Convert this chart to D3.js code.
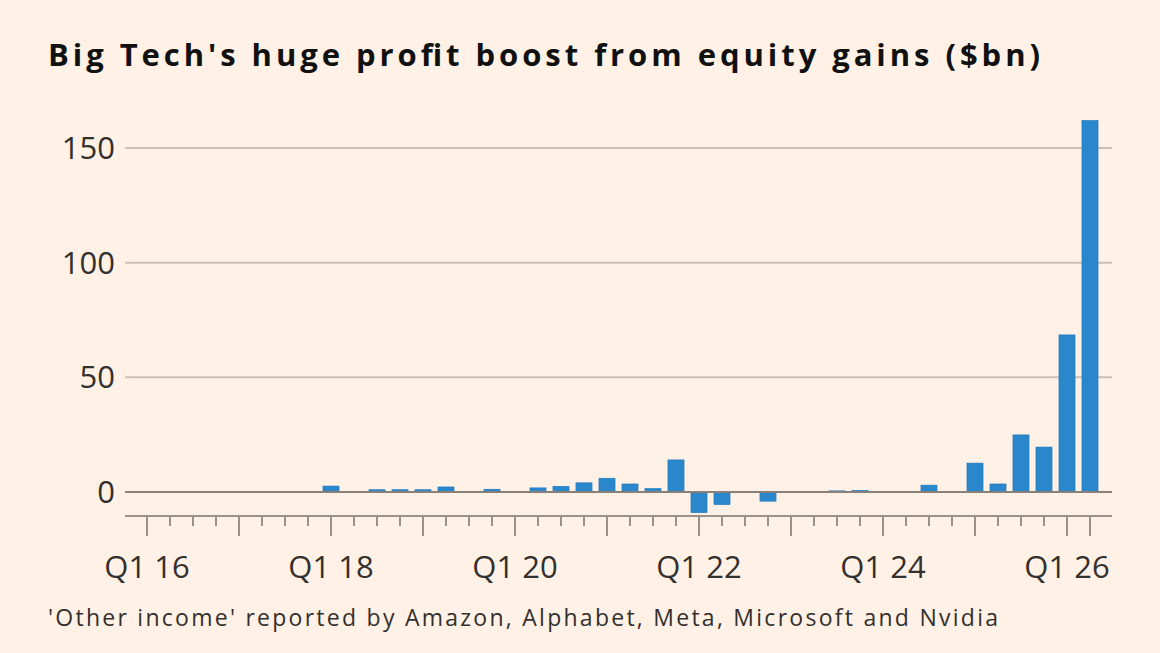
<!DOCTYPE html>
<html lang="en">
<head>
<meta charset="UTF-8">
<script src="https://d3js.org/d3.v7.min.js"></script>
<style>
    body { margin: 0; background: #fff1e5; font-family: 'Open Sans', 'DejaVu Sans', sans-serif; }
    svg { display: block; }
</style>
</head>
<body>
<div id="chart"></div>
<script>
// quarters Q1 16 .. Q2 26
const quarters = d3.range(42).map(i => `Q${i % 4 + 1} ${16 + Math.floor(i / 4)}`);
const values = [
    0, 0, 0, 0, 0, 0, 0, 0,
    2.6, 0.3, 1, 1, 1, 2.2, 0, 1.2,
    0, 1.8, 2.5, 4, 6, 3.5, 1.5, 14,
    -9, -5.5, 0, -4, 0, 0, 0.5, 0.7,
    0, 0, 3, 0, 12.6, 3.5, 24.9, 19.6,
    68.5, 162
];
const yTicks = [0, 50, 100, 150];
const tickLabels = ["Q1 16", "Q1 18", "Q1 20", "Q1 22", "Q1 24", "Q1 26"];

const W = 1160, H = 653;
const svg = d3.select("#chart").append("svg").attr("width", W).attr("height", H);

const x = d3.scaleBand().domain(quarters).range([135.5, 1101.5])
    .paddingInner(0.3).paddingOuter(0.15);
const y = d3.scaleLinear().domain([0, 150]).range([492, 148]);

svg.append("text").attr("x", 48).attr("y", 66)
    .attr("font-size", 31).attr("font-weight", 700).attr("fill", "#111")
    .attr("textLength", 992).attr("lengthAdjust", "spacing")
    .text("Big Tech's huge profit boost from equity gains ($bn)");

// gridlines
svg.append("g").selectAll("line").data(yTicks).join("line")
    .attr("x1", 125).attr("x2", 1112)
    .attr("y1", d => y(d)).attr("y2", d => y(d))
    .attr("stroke", "#ccc1b7").attr("stroke-width", 2);

svg.append("g").selectAll("text").data(yTicks).join("text")
    .attr("x", 115).attr("y", d => y(d) + 11)
    .attr("text-anchor", "end").attr("font-size", 31).attr("fill", "#33302e")
    .text(d => d);

// bars
svg.append("g").selectAll("rect").data(values).join("rect")
    .attr("x", (d, i) => x(quarters[i]))
    .attr("width", x.bandwidth())
    .attr("y", d => y(Math.max(0, d)))
    .attr("height", d => Math.abs(y(d) - y(0)))
    .attr("fill", "#2a87cb").attr("stroke", "#1a77c0").attr("stroke-width", 0.6);

// zero line
svg.append("line").attr("x1", 125).attr("x2", 1112).attr("y1", y(0)).attr("y2", y(0))
    .attr("stroke", "#8a8078").attr("stroke-width", 2);

// x axis
const axisY = 516;
const ax = svg.append("g");
ax.append("line").attr("x1", 125).attr("x2", 1112).attr("y1", axisY).attr("y2", axisY)
    .attr("stroke", "#9a918a").attr("stroke-width", 2);
const c = q => x(q) + x.bandwidth() / 2;
ax.selectAll("line.t").data(quarters).join("line").attr("class", "t")
    .attr("x1", c).attr("x2", c).attr("y1", axisY)
    .attr("y2", (d, i) => (i % 4 === 0 || i === quarters.length - 1) ? axisY + 20 : axisY + 10)
    .attr("stroke", "#9a918a").attr("stroke-width", 2);
ax.selectAll("text").data(tickLabels).join("text")
    .attr("x", d => c(d)).attr("y", 578)
    .attr("text-anchor", "middle").attr("font-size", 31).attr("fill", "#33302e")
    .text(d => d);

svg.append("text").attr("x", 48).attr("y", 626)
    .attr("font-size", 23).attr("fill", "#33302e")
    .attr("textLength", 950).attr("lengthAdjust", "spacing")
    .text("'Other income' reported by Amazon, Alphabet, Meta, Microsoft and Nvidia");
</script>
</body>
</html>
